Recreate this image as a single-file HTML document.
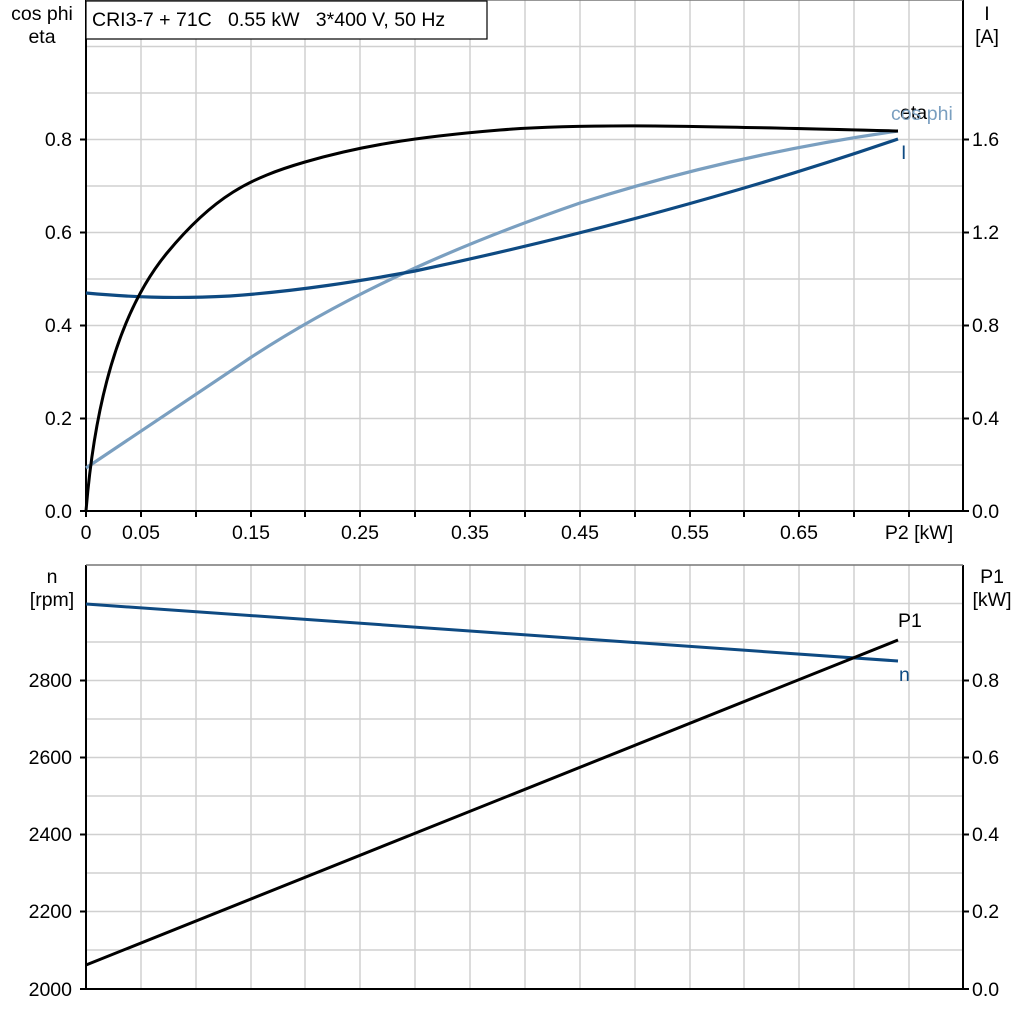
<!DOCTYPE html>
<html><head><meta charset="utf-8"><style>
html,body{margin:0;padding:0;background:#fff;}
svg{display:block;font-family:"Liberation Sans",Arial,sans-serif;}
text{white-space:pre;}
</style></head><body>
<svg width="1024" height="1024" viewBox="0 0 1024 1024" xmlns="http://www.w3.org/2000/svg">
<g stroke="#d0d0d0" stroke-width="1.5" fill="none">
<path d="M141,0V511M196,0V511M251,0V511M305,0V511M360,0V511M415,0V511M470,0V511M525,0V511M580,0V511M635,0V511M690,0V511M744,0V511M799,0V511M854,0V511M909,0V511"/>
<path d="M86,46.5H963M86,93H963M86,139.5H963M86,186H963M86,232.5H963M86,279H963M86,325.5H963M86,372H963M86,418.5H963M86,465H963"/>
<path d="M141,565V989M196,565V989M251,565V989M305,565V989M360,565V989M415,565V989M470,565V989M525,565V989M580,565V989M635,565V989M690,565V989M744,565V989M799,565V989M854,565V989M909,565V989"/>
<path d="M86,603.5H963M86,642H963M86,680.5H963M86,719H963M86,757.5H963M86,796H963M86,834.5H963M86,873H963M86,911.5H963M86,950H963"/>
</g>
<g fill="none" stroke="#000" stroke-width="2">
<path d="M86,0V511H963V0"/>
<path d="M86,565V989H963V565"/>
<path d="M80,139.5H86M80,232.5H86M80,325.5H86M80,418.5H86M80,511H86"/>
<path d="M963,139.5H969M963,232.5H969M963,325.5H969M963,418.5H969M963,511H969"/>
<path d="M86,511V517M141,511V517M196,511V517M251,511V517M305,511V517M360,511V517M415,511V517M470,511V517M525,511V517M580,511V517M635,511V517M690,511V517M744,511V517M799,511V517M854,511V517M909,511V517"/>
<path d="M80,680.5H86M80,757.5H86M80,834.5H86M80,911.5H86M80,989H86"/>
<path d="M963,680.5H969M963,757.5H969M963,834.5H969M963,911.5H969M963,989H969"/>
</g>
<path d="M86,0H963M86,565H963" stroke="#777" stroke-width="1.5"/>
<rect x="86" y="1" width="401" height="38" fill="#fff" stroke="#000" stroke-width="1.2"/>
<text x="92" y="26" font-size="19.5">CRI3-7 + 71C   0.55 kW   3*400 V, 50 Hz</text>
<path d="M86,468 C150,425 200,392 250,358 C305,322 360,293 415,268 C470,243 525,222 580,203 C690,168 800,145 898,131" fill="none" stroke="#7a9fc0" stroke-width="3.2"/>
<path d="M86,293 C130,297 170,299 230,296 C300,291 360,281 415,271 C580,236 750,190 898,139" fill="none" stroke="#0e4a82" stroke-width="3.2"/>
<path d="M86,511 C95,400 120,310 167,253 C214,196 250,178 305,162 C360,146 415,137 500,130 C585,123 700,126 898,131" fill="none" stroke="#000" stroke-width="3"/>
<text x="900" y="119" font-size="19.5" fill="#000">eta</text>
<text x="891" y="120" font-size="19.5" fill="#7a9fc0">cos phi</text>
<text x="901" y="159" font-size="19.5" fill="#0e4a82">I</text>
<path d="M86,604 L898,661" fill="none" stroke="#0e4a82" stroke-width="3"/>
<path d="M86,965 L898,640" fill="none" stroke="#000" stroke-width="3"/>
<text x="898" y="627" font-size="19.5">P1</text>
<text x="899" y="681" font-size="19.5" fill="#0e4a82">n</text>
<g font-size="19.5" text-anchor="end">
<text x="72" y="146">0.8</text><text x="72" y="239">0.6</text><text x="72" y="332">0.4</text><text x="72" y="425">0.2</text><text x="72" y="518">0.0</text>
<text x="72" y="687">2800</text><text x="72" y="764">2600</text><text x="72" y="841">2400</text><text x="72" y="918">2200</text><text x="72" y="996">2000</text>
</g>
<g font-size="19.5" text-anchor="start">
<text x="972" y="146">1.6</text><text x="972" y="239">1.2</text><text x="972" y="332">0.8</text><text x="972" y="425">0.4</text><text x="972" y="518">0.0</text>
<text x="972" y="687">0.8</text><text x="972" y="764">0.6</text><text x="972" y="841">0.4</text><text x="972" y="918">0.2</text><text x="972" y="996">0.0</text>
</g>
<g font-size="19.5" text-anchor="middle">
<text x="86" y="539">0</text><text x="141" y="539">0.05</text><text x="251" y="539">0.15</text><text x="360" y="539">0.25</text><text x="470" y="539">0.35</text><text x="580" y="539">0.45</text><text x="690" y="539">0.55</text><text x="799" y="539">0.65</text><text x="919" y="539">P2 [kW]</text>
<text x="42" y="20">cos phi</text><text x="42" y="43">eta</text>
<text x="987" y="20">I</text><text x="987" y="43">[A]</text>
<text x="52" y="583">n</text><text x="52" y="606">[rpm]</text>
<text x="992" y="583">P1</text><text x="992" y="606">[kW]</text>
</g>
</svg>
</body></html>
